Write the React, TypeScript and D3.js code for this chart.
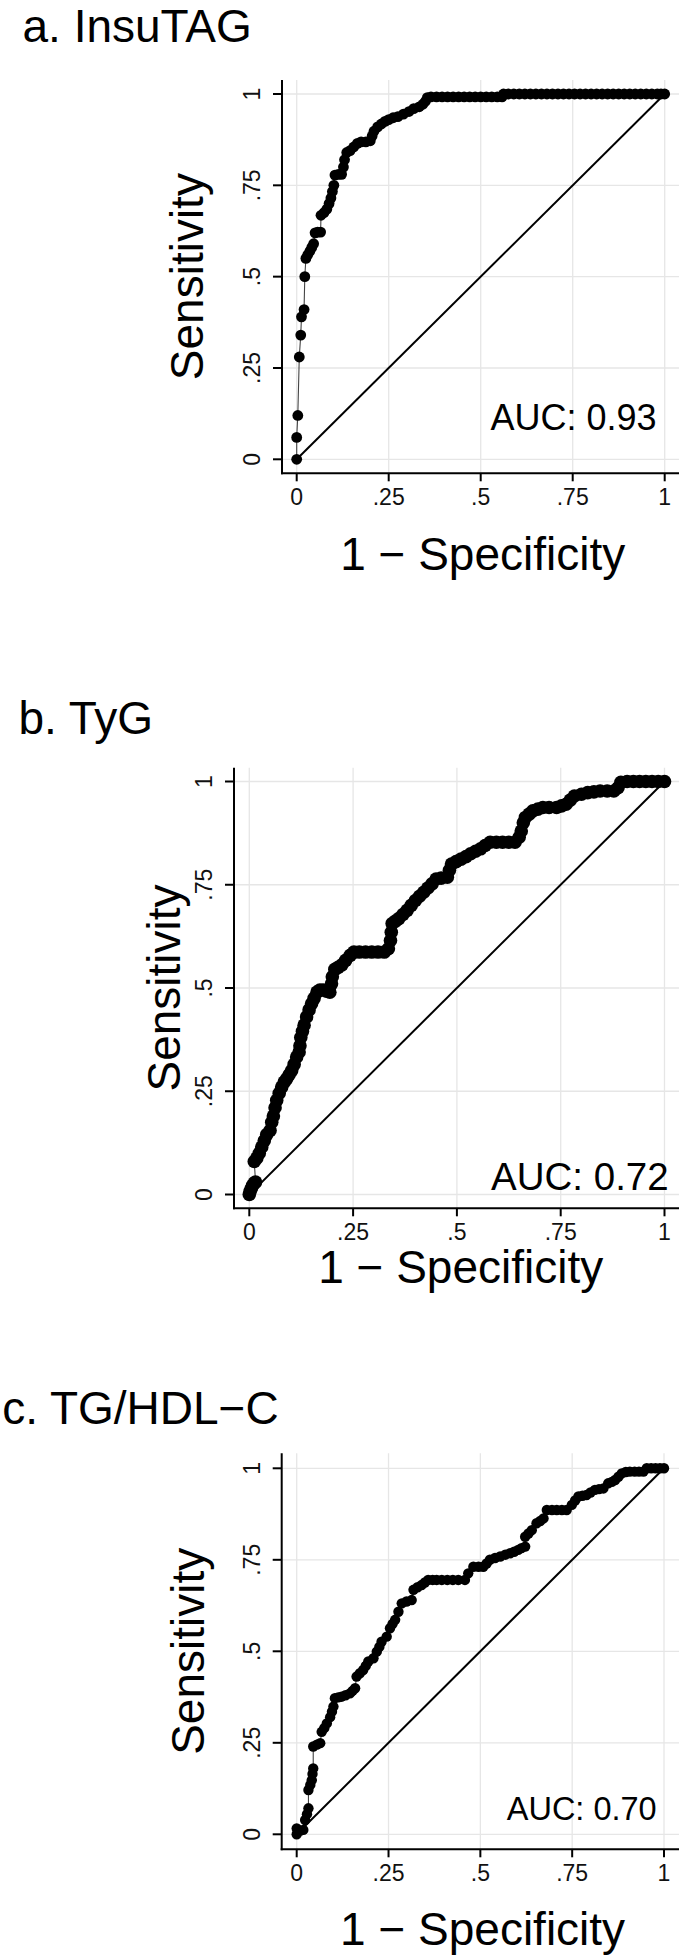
import React from "react";
import * as d3 from "d3";

// ---------- DATA ----------
const tickValues = [0, 0.25, 0.5, 0.75, 1];
const tickLabels = ["0", ".25", ".5", ".75", "1"];

const panelTitles = ["a. InsuTAG", "b. TyG", "c. TG/HDL\u2212C"];
const aucLabels = ["AUC: 0.93", "AUC: 0.72", "AUC: 0.70"];

// [1 - specificity, sensitivity]
const insutagPoints: [number, number][] = [
  [0, 0], [0, 0.06], [0.003, 0.12], [0.007, 0.28], [0.011, 0.34], [0.013, 0.39], [0.02, 0.41],
  [0.022, 0.5], [0.025, 0.55], [0.03, 0.56], [0.036, 0.57], [0.041, 0.58], [0.046, 0.59],
  [0.05, 0.62], [0.057, 0.622], [0.065, 0.622], [0.066, 0.668], [0.074, 0.675], [0.082, 0.685],
  [0.088, 0.7], [0.093, 0.715], [0.097, 0.733], [0.101, 0.75], [0.104, 0.778], [0.113, 0.78],
  [0.122, 0.78], [0.127, 0.8], [0.13, 0.82], [0.136, 0.84], [0.145, 0.845], [0.155, 0.855],
  [0.165, 0.865], [0.175, 0.869], [0.188, 0.869], [0.2, 0.872], [0.205, 0.885], [0.21, 0.898],
  [0.22, 0.91], [0.23, 0.918], [0.24, 0.925], [0.25, 0.93], [0.262, 0.935], [0.275, 0.938],
  [0.29, 0.945], [0.305, 0.952], [0.318, 0.96], [0.333, 0.965], [0.343, 0.972], [0.35, 0.98],
  [0.355, 0.99], [0.365, 0.992], [0.38, 0.992], [0.395, 0.992], [0.41, 0.992], [0.425, 0.992],
  [0.44, 0.992], [0.455, 0.992], [0.47, 0.992], [0.485, 0.992], [0.5, 0.992], [0.515, 0.992],
  [0.53, 0.992], [0.545, 0.992], [0.558, 0.992], [0.562, 1], [0.575, 1], [0.59, 1], [0.605, 1],
  [0.62, 1], [0.635, 1], [0.65, 1], [0.665, 1], [0.68, 1], [0.695, 1], [0.71, 1], [0.725, 1],
  [0.74, 1], [0.755, 1], [0.77, 1], [0.785, 1], [0.8, 1], [0.815, 1], [0.83, 1], [0.845, 1],
  [0.86, 1], [0.875, 1], [0.89, 1], [0.905, 1], [0.92, 1], [0.935, 1], [0.95, 1], [0.965, 1],
  [0.98, 1], [0.99, 1], [1, 1],
];

const tygPoints: [number, number][] = [
  [0, 0], [0.002, 0.008], [0.005, 0.015], [0.008, 0.022], [0.012, 0.028], [0.015, 0.03],
  [0.012, 0.08], [0.018, 0.088], [0.024, 0.1], [0.03, 0.115], [0.036, 0.13], [0.042, 0.145],
  [0.05, 0.155], [0.054, 0.175], [0.058, 0.19], [0.062, 0.21], [0.066, 0.228], [0.072, 0.245],
  [0.078, 0.26], [0.084, 0.272], [0.09, 0.28], [0.096, 0.29], [0.102, 0.3], [0.108, 0.315],
  [0.114, 0.333], [0.12, 0.345], [0.122, 0.36], [0.124, 0.38], [0.128, 0.395], [0.132, 0.41],
  [0.138, 0.43], [0.144, 0.447], [0.15, 0.462], [0.156, 0.475], [0.163, 0.49], [0.17, 0.495],
  [0.178, 0.495], [0.186, 0.492], [0.194, 0.49], [0.198, 0.51], [0.2, 0.527], [0.206, 0.545],
  [0.214, 0.55], [0.223, 0.556], [0.232, 0.567], [0.243, 0.579], [0.252, 0.587], [0.265, 0.587],
  [0.28, 0.587], [0.295, 0.587], [0.31, 0.587], [0.325, 0.587], [0.335, 0.595], [0.34, 0.615],
  [0.342, 0.635], [0.344, 0.656], [0.352, 0.662], [0.36, 0.668], [0.37, 0.678], [0.38, 0.688],
  [0.39, 0.7], [0.4, 0.712], [0.41, 0.722], [0.42, 0.732], [0.43, 0.742], [0.44, 0.752],
  [0.45, 0.764], [0.462, 0.766], [0.477, 0.768], [0.482, 0.785], [0.487, 0.8], [0.498, 0.806],
  [0.51, 0.812], [0.522, 0.818], [0.533, 0.825], [0.545, 0.831], [0.557, 0.837], [0.568, 0.845],
  [0.58, 0.853], [0.595, 0.853], [0.61, 0.853], [0.625, 0.853], [0.64, 0.853], [0.65, 0.865],
  [0.655, 0.88], [0.66, 0.9], [0.665, 0.913], [0.674, 0.921], [0.683, 0.929], [0.695, 0.933],
  [0.707, 0.937], [0.722, 0.937], [0.74, 0.937], [0.752, 0.941], [0.763, 0.945], [0.773, 0.955],
  [0.783, 0.965], [0.8, 0.969], [0.815, 0.973], [0.83, 0.975], [0.845, 0.977], [0.862, 0.977],
  [0.878, 0.977], [0.888, 0.985], [0.895, 0.998], [0.91, 1], [0.925, 1], [0.94, 1], [0.955, 1],
  [0.97, 1], [0.985, 1], [1, 1],
];

const tghdlPoints: [number, number][] = [
  [0, 0], [0, 0.016], [0.01, 0.01], [0.018, 0.012], [0.023, 0.039], [0.028, 0.055], [0.032, 0.071],
  [0.032, 0.121], [0.037, 0.135], [0.041, 0.148], [0.043, 0.165], [0.045, 0.18], [0.045, 0.24],
  [0.055, 0.245], [0.064, 0.249], [0.068, 0.28], [0.075, 0.29], [0.082, 0.303], [0.091, 0.32],
  [0.096, 0.335], [0.1, 0.349], [0.104, 0.372], [0.113, 0.374], [0.122, 0.376], [0.133, 0.38],
  [0.145, 0.385], [0.152, 0.392], [0.159, 0.399], [0.163, 0.431], [0.172, 0.44], [0.181, 0.449],
  [0.188, 0.46], [0.195, 0.472], [0.209, 0.481], [0.218, 0.499], [0.225, 0.512], [0.231, 0.526],
  [0.245, 0.54], [0.254, 0.563], [0.261, 0.575], [0.268, 0.586], [0.277, 0.608], [0.286, 0.631],
  [0.299, 0.636], [0.313, 0.64], [0.318, 0.668], [0.329, 0.675], [0.34, 0.681], [0.349, 0.688],
  [0.358, 0.695], [0.37, 0.695], [0.381, 0.695], [0.395, 0.695], [0.41, 0.695], [0.425, 0.695],
  [0.44, 0.695], [0.458, 0.695], [0.467, 0.713], [0.481, 0.731], [0.495, 0.731], [0.508, 0.731],
  [0.517, 0.74], [0.526, 0.75], [0.54, 0.755], [0.554, 0.759], [0.568, 0.764], [0.581, 0.768],
  [0.592, 0.772], [0.603, 0.777], [0.612, 0.782], [0.622, 0.786], [0.622, 0.813], [0.631, 0.822],
  [0.64, 0.831], [0.653, 0.85], [0.663, 0.856], [0.672, 0.863], [0.681, 0.886], [0.695, 0.886],
  [0.708, 0.886], [0.722, 0.886], [0.735, 0.886], [0.749, 0.9], [0.758, 0.912], [0.767, 0.923],
  [0.778, 0.925], [0.789, 0.927], [0.8, 0.934], [0.812, 0.941], [0.823, 0.943], [0.835, 0.945],
  [0.848, 0.959], [0.858, 0.963], [0.867, 0.968], [0.876, 0.977], [0.885, 0.986], [0.896, 0.99],
  [0.907, 0.991], [0.92, 0.991], [0.932, 0.991], [0.944, 0.991], [0.953, 1], [0.965, 1],
  [0.977, 1], [0.989, 1], [1, 1],
];

const panelPoints = [insutagPoints, tygPoints, tghdlPoints];

// ---------- LAYOUT ----------
const FONT = "'Liberation Sans', Arial, Helvetica, sans-serif";

interface Layout {
  titleX: number; titleY: number;
  left: number; right: number; top: number; bottom: number;
  x0: number; x1: number; y0: number; y1: number;
  r: number;
  aucX: number; aucY: number; aucSize: number;
  xTitleX: number; xTitleY: number; yTitleX: number;
}

const layouts: Layout[] = [
  { titleX: 22.5, titleY: 41.7, left: 282, right: 679, top: 80, bottom: 473.3,
    x0: 296.7, x1: 664.7, y0: 459.3, y1: 94, r: 5.4,
    aucX: 656.5, aucY: 430, aucSize: 36, xTitleX: 482.7, xTitleY: 570, yTitleX: 203 },
  { titleX: 18.4, titleY: 734, left: 234, right: 679, top: 767.7, bottom: 1208.3,
    x0: 249.3, x1: 664.5, y0: 1194.5, y1: 781.5, r: 6.8,
    aucX: 668.7, aucY: 1190, aucSize: 38.5, xTitleX: 460.7, xTitleY: 1283, yTitleX: 179.5 },
  { titleX: 2.2, titleY: 1424, left: 281.7, right: 679, top: 1453.3, bottom: 1849.3,
    x0: 296.7, x1: 664, y0: 1834.3, y1: 1468.3, r: 5.2,
    aucX: 656.7, aucY: 1820, aucSize: 32.5, xTitleX: 482.6, xTitleY: 1945, yTitleX: 203.5 },
];

function Panel({ idx }: { idx: number }) {
  const L = layouts[idx];
  const pts = panelPoints[idx];
  const x = d3.scaleLinear().domain([0, 1]).range([L.x0, L.x1]);
  const y = d3.scaleLinear().domain([0, 1]).range([L.y0, L.y1]);
  const line = d3.line<[number, number]>().x((d) => x(d[0])).y((d) => y(d[1]));
  const midY = (L.top + L.bottom) / 2;
  return (
    <g>
      <text x={L.titleX} y={L.titleY} fontSize={46} fontFamily={FONT} fill="#000">
        {panelTitles[idx]}
      </text>
      {/* grid */}
      {tickValues.map((t) => (
        <line key={"gh" + t} x1={L.left} x2={L.right} y1={y(t)} y2={y(t)} stroke="#e6e6e6" strokeWidth={1.3} />
      ))}
      {tickValues.map((t) => (
        <line key={"gv" + t} x1={x(t)} x2={x(t)} y1={L.top} y2={L.bottom} stroke="#e6e6e6" strokeWidth={1.3} />
      ))}
      {/* reference diagonal */}
      <path d={line([[0, 0], [1, 1]]) || ""} stroke="#000" strokeWidth={2} fill="none" />
      {/* ROC curve */}
      <path d={line(pts) || ""} stroke="#444" strokeWidth={1.1} fill="none" />
      {pts.map((p, i) => (
        <circle key={i} cx={x(p[0])} cy={y(p[1])} r={L.r} fill="#000" />
      ))}
      {/* axes */}
      <line x1={L.left} x2={L.left} y1={L.top} y2={L.bottom + 1} stroke="#000" strokeWidth={2} />
      <line x1={L.left - 1} x2={L.right} y1={L.bottom} y2={L.bottom} stroke="#000" strokeWidth={2} />
      {tickValues.map((t, i) => (
        <g key={"xt" + t}>
          <line x1={x(t)} x2={x(t)} y1={L.bottom} y2={L.bottom + 8} stroke="#000" strokeWidth={2} />
          <text x={x(t)} y={L.bottom + 31.2} fontSize={23} textAnchor="middle" fontFamily={FONT} fill="#111">
            {tickLabels[i]}
          </text>
        </g>
      ))}
      {tickValues.map((t, i) => (
        <g key={"yt" + t}>
          <line x1={L.left - 9} x2={L.left} y1={y(t)} y2={y(t)} stroke="#000" strokeWidth={2} />
          <text transform={`translate(${L.left - 21.7},${y(t)}) rotate(-90)`} fontSize={23}
            textAnchor="middle" fontFamily={FONT} fill="#111">
            {tickLabels[i]}
          </text>
        </g>
      ))}
      <text x={L.aucX} y={L.aucY} fontSize={L.aucSize} textAnchor="end" fontFamily={FONT} fill="#000">
        {aucLabels[idx]}
      </text>
      <text x={L.xTitleX} y={L.xTitleY} fontSize={46} textAnchor="middle" fontFamily={FONT} fill="#000">
        {"1 \u2212 Specificity"}
      </text>
      <text transform={`translate(${L.yTitleX},${midY}) rotate(-90)`} fontSize={46} textAnchor="middle"
        fontFamily={FONT} fill="#000">
        Sensitivity
      </text>
    </g>
  );
}

export default function App() {
  return (
    <svg width={685} height={1959} viewBox="0 0 685 1959"
      style={{ position: "absolute", left: 0, top: 0, display: "block", background: "#fff" }}>
      <rect x={0} y={0} width={685} height={1959} fill="#fff" />
      {[0, 1, 2].map((i) => <Panel key={i} idx={i} />)}
    </svg>
  );
}
